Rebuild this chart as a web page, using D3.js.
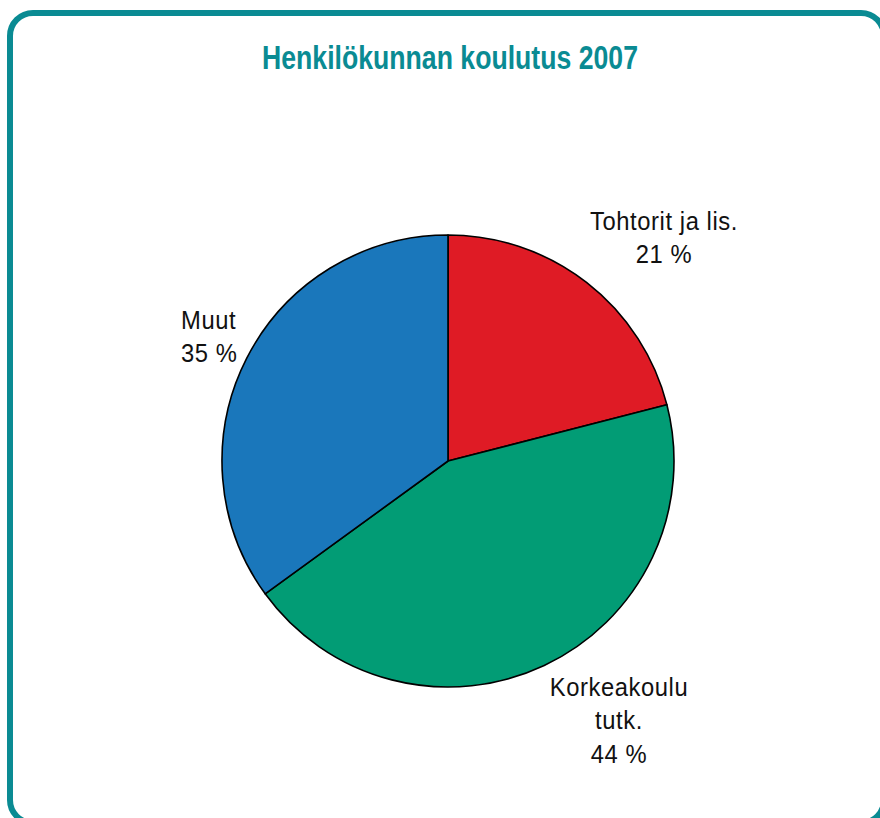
<!DOCTYPE html>
<html><head><meta charset="utf-8">
<script src="https://cdn.jsdelivr.net/npm/d3@7"></script>
<style>html,body{margin:0;padding:0;background:#fff;}svg{display:block;}</style>
</head><body>
<script>
const title = "Henkilökunnan koulutus 2007";
const categories = ["Tohtorit ja lis.", "Korkeakoulu tutk.", "Muut"];
const labelLines = [["Tohtorit ja lis.", "21 %"], ["Korkeakoulu", "tutk.", "44 %"], ["Muut", "35 %"]];
const values = [21, 44, 35];
const colors = ["#df1b25", "#029c75", "#1a77bb"];

const W = 880, H = 818;
const svg = d3.select("body").append("svg").attr("width", W).attr("height", H);

// frame
svg.append("rect").attr("x", 10).attr("y", 13).attr("width", 874).attr("height", 810)
  .attr("rx", 23).attr("ry", 23).attr("fill", "#fff")
  .attr("stroke", "#0a8b93").attr("stroke-width", 6);

svg.append("text").attr("x", 450).attr("y", 69).attr("text-anchor", "middle")
  .attr("font-family", "'Liberation Sans Narrow', 'Liberation Sans', sans-serif")
  .attr("font-weight", "bold").attr("font-size", 32.5).attr("fill", "#0a8b93")
  .attr("textLength", 376).attr("lengthAdjust", "spacingAndGlyphs")
  .text(title);

const cx = 448, cy = 461, r = 226;
const pie = d3.pie().sort(null).value(d => d)(values);
const arc = d3.arc().innerRadius(0).outerRadius(r);
const g = svg.append("g").attr("transform", `translate(${cx},${cy})`);
g.selectAll("path").data(pie).join("path")
  .attr("d", arc).attr("fill", (d, i) => colors[i])
  .attr("stroke", "#000").attr("stroke-width", 1.6).attr("stroke-linejoin", "round");

// label layout (anchor x, first baseline y, anchor)
const layout = [
  {x: 664, y: 230, anchor: "middle"},
  {x: 619, y: 696, anchor: "middle"},
  {x: 181, y: 329, anchor: "start"}
];
const font = "'Liberation Sans', Arial, sans-serif";
// measure horizontal compression so that the first label line is ~148px wide
const probe = svg.append("text").attr("font-family", font).attr("font-size", 25)
  .attr("letter-spacing", 0.6).text(labelLines[0][0]);
const sx = 148 / probe.node().getComputedTextLength();
probe.remove();

labelLines.forEach((lines, i) => {
  const lg = svg.append("g")
    .attr("transform", `translate(${layout[i].x},${layout[i].y}) scale(${sx},1)`);
  const t = lg.append("text")
    .attr("font-family", font)
    .attr("font-size", 25).attr("fill", "#111").attr("letter-spacing", 0.6)
    .attr("text-anchor", layout[i].anchor);
  lines.forEach((ln, k) => {
    t.append("tspan").attr("x", 0).attr("y", k * 33.5).text(ln);
  });
});
</script>
</body></html>
